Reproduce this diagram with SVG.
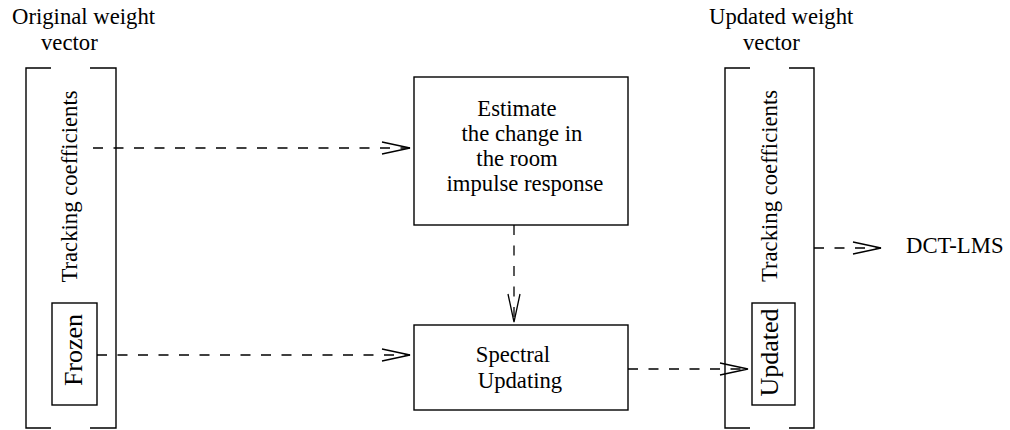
<svg xmlns="http://www.w3.org/2000/svg" width="1010" height="430" viewBox="0 0 1010 430">
  <style>
    .txt { font-family: "Liberation Serif", "Times New Roman", serif; font-size: 22.7px; fill: #000; }
    .big { font-size: 26px; }
    .box { fill: none; stroke: #000; stroke-width: 1.4; }
    .br { fill: none; stroke: #000; stroke-width: 1.4; }
    .flow { fill: none; stroke: #000; stroke-width: 1.3; stroke-dasharray: 10 10.5; }
  </style>
  <defs>
    <marker id="vee" markerWidth="32" markerHeight="16" refX="30" refY="8" orient="auto" markerUnits="userSpaceOnUse">
      <path d="M2,2 L30,8 L2,14" fill="none" stroke="#000" stroke-width="1.3"/>
    </marker>
  </defs>

  <rect width="1010" height="430" fill="#fff"/>

  <!-- original weight vector -->
  <g id="original-vector">
    <text class="txt" x="12" y="24">Original weight</text>
    <text class="txt" x="41" y="50">vector</text>
    <path class="br" d="M51,68 H26 V428 H51 M90,68 H116 V428 H90"/>
    <text class="txt" transform="translate(77,186.5) rotate(-90)" text-anchor="middle">Tracking coefficients</text>
  </g>
  <g id="frozen">
    <rect class="box" x="52" y="303" width="45" height="102"/>
    <text class="txt big" transform="translate(81.5,350) rotate(-90)" text-anchor="middle">Frozen</text>
  </g>

  <!-- estimate block -->
  <g id="estimate">
    <rect class="box" x="414" y="77" width="214" height="148"/>
    <text class="txt" x="517" y="116" text-anchor="middle">Estimate</text>
    <text class="txt" x="522" y="141" text-anchor="middle">the change in</text>
    <text class="txt" x="517" y="166" text-anchor="middle">the room</text>
    <text class="txt" x="525" y="191" text-anchor="middle">impulse response</text>
  </g>

  <!-- spectral updating block -->
  <g id="spectral">
    <rect class="box" x="414" y="325" width="214" height="85"/>
    <text class="txt" x="513" y="362" text-anchor="middle">Spectral</text>
    <text class="txt" x="520" y="388" text-anchor="middle">Updating</text>
  </g>

  <!-- updated weight vector -->
  <g id="updated-vector">
    <text class="txt" x="709" y="24">Updated weight</text>
    <text class="txt" x="743" y="50">vector</text>
    <path class="br" d="M750,68 H725 V428 H750 M789,68 H814 V428 H789"/>
    <text class="txt" transform="translate(777,186) rotate(-90)" text-anchor="middle">Tracking coefficients</text>
  </g>
  <g id="updated">
    <rect class="box" x="752" y="303" width="43" height="102"/>
    <text class="txt big" transform="translate(777.5,352.5) rotate(-90)" text-anchor="middle">Updated</text>
  </g>

  <g id="dct-lms">
    <text class="txt" x="906" y="253">DCT-LMS</text>
  </g>

  <!-- dashed flows -->
  <g id="connectors">
    <path class="flow" d="M93,148 H410" marker-end="url(#vee)"/>
    <path class="flow" d="M97,355 H410" marker-end="url(#vee)"/>
    <path class="flow" d="M514,225 V322" marker-end="url(#vee)"/>
    <path class="flow" d="M628,369 H748" marker-end="url(#vee)"/>
    <path class="flow" d="M814,248 H881" marker-end="url(#vee)"/>
  </g>
</svg>
